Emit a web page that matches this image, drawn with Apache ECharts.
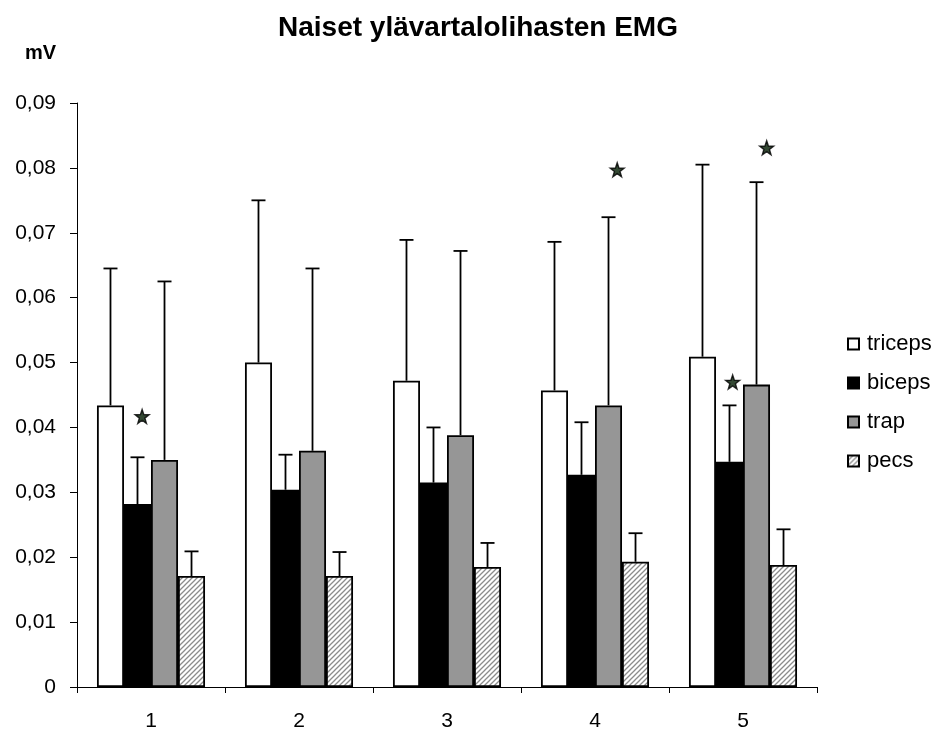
<!DOCTYPE html>
<html>
<head>
<meta charset="utf-8">
<script src="https://cdn.jsdelivr.net/npm/echarts@6/dist/echarts.min.js"></script>
<style>html,body{margin:0;padding:0;background:#fff}#c{width:938px;height:732px}</style>
</head>
<body>
<div id="c"></div>
<script>
var categories = ['1', '2', '3', '4', '5'];
var seriesNames = ['triceps', 'biceps', 'trap', 'pecs'];
var triceps = [0.0434, 0.0500, 0.0472, 0.0457, 0.0509];
var biceps  = [0.0282, 0.0304, 0.0315, 0.0327, 0.0347];
var trap    = [0.0350, 0.0364, 0.0388, 0.0434, 0.0466];
var pecs    = [0.0171, 0.0171, 0.0185, 0.0193, 0.0188];
var tricepsErr = [0.0645, 0.0750, 0.0689, 0.0686, 0.0805];
var bicepsErr  = [0.0354, 0.0358, 0.0400, 0.0408, 0.0434];
var trapErr    = [0.0625, 0.0645, 0.0672, 0.0724, 0.0778];
var pecsErr    = [0.0209, 0.0208, 0.0222, 0.0237, 0.0243];
var starX = [0.44, 3.65, 4.43, 4.66];
var starY = [0.0417, 0.0797, 0.0470, 0.0831];
var yTicks = [0, 0.01, 0.02, 0.03, 0.04, 0.05, 0.06, 0.07, 0.08, 0.09];

var FONT = '"Liberation Sans", Arial, sans-serif';
var GAP = 0.27;

// hatch pattern for pecs
var pc = document.createElement('canvas');
pc.width = 5; pc.height = 5;
var g = pc.getContext('2d');
g.fillStyle = '#ffffff'; g.fillRect(0, 0, 5, 5);
g.strokeStyle = '#8c8c8c'; g.lineWidth = 1.3;
g.beginPath();
g.moveTo(-1, 6); g.lineTo(6, -1);
g.moveTo(-1, 1); g.lineTo(1, -1);
g.moveTo(4, 6); g.lineTo(6, 4);
g.stroke();

var fills = ['#ffffff', '#000000', '#969696', {image: pc, repeat: 'repeat'}];
var vals = [triceps, biceps, trap, pecs];
var errs = [tricepsErr, bicepsErr, trapErr, pecsErr];

var series = [];
seriesNames.forEach(function (n, i) {
  series.push({
    name: n, type: 'bar', data: vals[i],
    barGap: '0%', barCategoryGap: (GAP * 100) + '%',
    itemStyle: {color: fills[i], borderColor: '#000', borderWidth: 1.8},
    emphasis: {disabled: true}, animation: false, z: 2
  });
});
seriesNames.forEach(function (n, i) {
  series.push({
    name: n + '_err', type: 'custom', z: 3, animation: false, silent: true,
    encode: {x: 0, y: [1, 2]},
    data: vals[i].map(function (v, k) { return [k, v, errs[i][k]]; }),
    renderItem: function (params, api) {
      var band = api.size([1, 0])[0];
      var group = band * (1 - GAP);
      var bw = group / 4;
      var off = -group / 2 + bw * (i + 0.5);
      var p0 = api.coord([api.value(0), api.value(1)]);
      var p1 = api.coord([api.value(0), api.value(2)]);
      var x = p0[0] + off;
      var cap = 7;
      var st = {stroke: '#000', lineWidth: 1.8, fill: null};
      return {type: 'group', children: [
        {type: 'line', shape: {x1: x, y1: p0[1], x2: x, y2: p1[1]}, style: st},
        {type: 'line', shape: {x1: x - cap, y1: p1[1], x2: x + cap, y2: p1[1]}, style: st}
      ]};
    }
  });
});
series.push({
  name: 'stars', type: 'scatter', xAxisIndex: 1, z: 4, silent: true, animation: false,
  symbol: 'path://M100,0 L123.5,67.6 L195.1,69.1 L138,112.4 L158.8,180.9 L100,140 L41.2,180.9 L62,112.4 L4.9,69.1 L76.5,67.6 Z',
  symbolSize: 14,
  itemStyle: {color: '#001a00', borderColor: '#000', borderWidth: 1.4},
  data: starX.map(function (x, k) { return [x, starY[k]]; })
});

var chart = echarts.init(document.getElementById('c'), null, {renderer: 'canvas'});
chart.setOption({
  backgroundColor: '#fff',
  animation: false,
  title: {
    text: 'Naiset ylävartalolihasten EMG', left: 473, top: 9, textAlign: 'center',
    textStyle: {fontFamily: FONT, fontSize: 28, fontWeight: 'bold', color: '#000'}
  },
  graphic: [{
    type: 'text', left: 25, top: 43,
    style: {text: 'mV', font: 'bold 20px "Liberation Sans", Arial, sans-serif', fill: '#000'}
  }],
  legend: {
    data: seriesNames.map(function (n) { return {name: n, icon: 'rect'}; }),
    orient: 'vertical', left: 842, top: 328,
    itemWidth: 11, itemHeight: 11, itemGap: 17,
    textStyle: {fontFamily: FONT, fontSize: 22, color: '#000', padding: [0, 0, 0, 3]},
    selectedMode: false
  },
  grid: {left: 77, right: 121, top: 103, bottom: 44, containLabel: false},
  xAxis: [{
    type: 'category', data: categories,
    axisLine: {lineStyle: {color: '#000', width: 1}},
    axisTick: {show: true, length: 6, lineStyle: {color: '#000'}, alignWithLabel: false},
    axisLabel: {fontFamily: FONT, fontSize: 21, color: '#000', margin: 24},
    splitLine: {show: false}
  }, {
    type: 'value', min: 0, max: 5, show: false
  }],
  yAxis: {
    type: 'value', min: 0, max: 0.09, interval: 0.01,
    axisLine: {show: true, lineStyle: {color: '#000', width: 1}},
    axisTick: {show: true, length: 7, lineStyle: {color: '#000'}},
    splitLine: {show: false},
    axisLabel: {
      fontFamily: FONT, fontSize: 21, color: '#000', margin: 21,
      formatter: function (v) {
        var t = yTicks.reduce(function (a, b) { return Math.abs(b - v) < Math.abs(a - v) ? b : a; });
        return t === 0 ? '0' : t.toFixed(2).replace('.', ',');
      }
    }
  },
  series: series
});
</script>
</body>
</html>
